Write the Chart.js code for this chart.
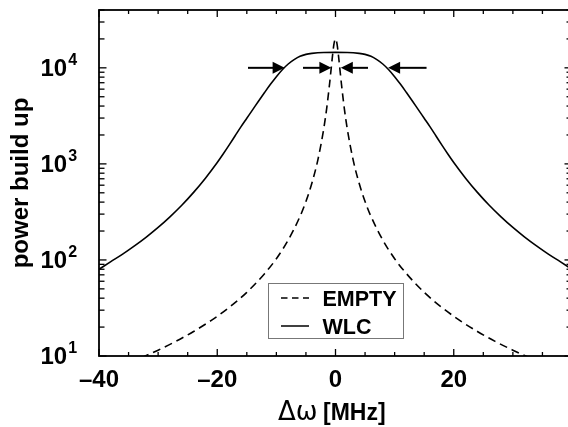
<!DOCTYPE html>
<html>
<head>
<meta charset="utf-8">
<script src="https://cdn.jsdelivr.net/npm/chart.js@4.4.1/dist/chart.umd.min.js"></script>
<style>
  html, body { margin: 0; padding: 0; background: #fff; overflow: hidden; }
  #wrap { width: 572px; height: 427px; }
</style>
</head>
<body>
<div id="wrap"><canvas id="myChart" width="572" height="427"></canvas></div>
<script>
// detuning [MHz] and power build up
const emptyX = [-39, -36, -33, -30, -27, -24, -21, -18, -15, -12, -10, -8, -6, -5, -4, -3, -2, -1.5, -1, -0.75, -0.5, -0.25,
                0, 0.25, 0.5, 0.75, 1, 1.5, 2, 3, 4, 5, 6, 8, 10, 12, 15, 18, 21, 24, 27, 30, 33, 36, 39];
const emptyY = [6.8, 8.0, 9.5, 11.5, 14.2, 18, 23.5, 32, 46, 72, 103, 161, 284, 406, 628, 1089, 2295, 3745, 6830, 9590, 13490, 17850,
                20000, 17850, 13490, 9590, 6830, 3745, 2295, 1089, 628, 406, 284, 161, 103, 72, 46, 32, 23.5, 18, 14.2, 11.5, 9.5, 8.0, 6.8];

const wlcX = [-40, -38, -36, -34, -32, -30, -28, -26, -24, -22, -20, -19, -18, -17, -16, -15, -14, -13, -12, -11, -10, -9, -8, -7, -6, -5, -4, -2,
              0, 2, 4, 5, 6, 7, 8, 9, 10, 11, 12, 13, 14, 15, 16, 17, 18, 19, 20, 22, 24, 26, 28, 30, 32, 34, 36, 38, 40];
const wlcY = [80, 96, 115, 140, 173, 218, 281, 371, 505, 710, 1035, 1268, 1567, 1950, 2427, 2985, 3670, 4520, 5530, 6730, 8090, 9550, 10960, 12160, 13180, 13800, 14130, 14450,
              14500, 14450, 14130, 13800, 13180, 12160, 10960, 9550, 8090, 6730, 5530, 4520, 3670, 2985, 2427, 1950, 1567, 1268, 1035, 710, 505, 371, 281, 218, 173, 140, 115, 96, 80];

const xTickLabels = [-40, -20, 0, 20];
const yTickLabels = [10, 100, 1000, 10000];

// width arrows drawn at the 10^4 level
const arrowFrom = [-14.8, -5.5, 5.5, 15.4];
const arrowTo = [-8.6, -0.7, 0.9, 8.9];
const arrowLevel = 10000;

const sup = { 1: '1', 2: '2', 3: '3', 4: '4' };

const decorations = {
  id: 'decorations',
  afterDatasetsDraw(chart) {
    const { ctx, chartArea: a, scales: { x, y } } = chart;
    const line = (x0, y0, x1, y1) => { ctx.beginPath(); ctx.moveTo(x0, y0); ctx.lineTo(x1, y1); ctx.stroke(); };
    ctx.save();
    ctx.strokeStyle = '#000';
    ctx.fillStyle = '#000';

    // frame
    ctx.lineWidth = 1.8;
    ctx.strokeRect(a.left, a.top, a.right - a.left, a.bottom - a.top);

    // x ticks, inward, top and bottom
    ctx.lineWidth = 1.3;
    for (let v = -40; v <= 40; v += 5) {
      const px = x.getPixelForValue(v);
      const len = v % 20 === 0 ? 7 : 4;
      line(px, a.bottom, px, a.bottom - len);
      line(px, a.top, px, a.top + len);
    }
    // y ticks, inward, left and right
    for (let e = 1; e <= 4; e++) {
      for (let m = 1; m <= 9; m++) {
        const v = m * Math.pow(10, e);
        if (v > y.max) break;
        const py = y.getPixelForValue(v);
        const len = m === 1 ? 7.5 : 5.5;
        line(a.left, py, a.left + len, py);
        line(a.right, py, a.right - len, py);
      }
    }

    // x tick labels
    ctx.font = 'bold 24px "Liberation Sans", Arial, sans-serif';
    ctx.textAlign = 'center';
    ctx.textBaseline = 'alphabetic';
    xTickLabels.forEach(v => {
      const txt = v < 0 ? '\u2013' + Math.abs(v) : String(v);
      ctx.fillText(txt, x.getPixelForValue(v), 387);
    });

    // y tick labels 10^n
    ctx.textAlign = 'left';
    yTickLabels.forEach(v => {
      const py = y.getPixelForValue(v);
      const e = Math.round(Math.log10(v));
      ctx.font = 'bold 24px "Liberation Sans", Arial, sans-serif';
      ctx.fillText('10', 40.5, py + 8);
      const w = ctx.measureText('10').width;
      ctx.font = 'bold 16px "Liberation Sans", Arial, sans-serif';
      ctx.fillText(sup[e], 40.5 + w + 1, py - 3);
    });

    // axis titles
    ctx.font = '26px "DejaVu Sans", sans-serif';
    ctx.fillText('\u0394\u03c9', 278, 420);
    ctx.font = 'bold 23px "Liberation Sans", Arial, sans-serif';
    ctx.fillText('[MHz]', 323, 420);

    ctx.save();
    ctx.translate(27.5, (a.top + a.bottom) / 2);
    ctx.rotate(-Math.PI / 2);
    ctx.textAlign = 'center';
    ctx.font = 'bold 24px "Liberation Sans", Arial, sans-serif';
    ctx.fillText('power build up', 0, 0);
    ctx.restore();

    // arrows
    const py = y.getPixelForValue(arrowLevel);
    arrowFrom.forEach((f, i) => {
      const x0 = x.getPixelForValue(f);
      const x1 = x.getPixelForValue(arrowTo[i]);
      const dir = Math.sign(x1 - x0);
      ctx.lineWidth = 2;
      line(x0, py, x1 - dir * 10, py);
      ctx.beginPath();
      ctx.moveTo(x1, py);
      ctx.lineTo(x1 - dir * 12, py - 6);
      ctx.lineTo(x1 - dir * 12, py + 6);
      ctx.closePath();
      ctx.fill();
    });

    // legend box
    ctx.fillStyle = '#fff';
    ctx.fillRect(268.5, 283.5, 135, 55);
    ctx.strokeStyle = '#777';
    ctx.lineWidth = 1;
    ctx.strokeRect(268.5, 283.5, 135, 55);
    ctx.strokeStyle = '#000';
    ctx.fillStyle = '#000';
    ctx.font = 'bold 21.5px "Liberation Sans", Arial, sans-serif';
    chart.data.datasets.forEach((ds, i) => {
      const ly = 298 + i * 28;
      ctx.lineWidth = 1.5;
      ctx.setLineDash(ds.borderDash.length ? [6.5, 4.5] : []);
      line(281, ly, 309, ly);
      ctx.setLineDash([]);
      ctx.fillText(ds.label, 322.5, ly + 8);
    });
    ctx.restore();
  }
};

const ctxs = document.getElementById('myChart');
new Chart(ctxs, {
  type: 'line',
  data: {
    datasets: [
      {
        label: 'EMPTY',
        data: emptyX.map((v, i) => ({ x: v, y: emptyY[i] })),
        borderColor: '#000',
        borderWidth: 1.6,
        borderDash: [8, 5],
        pointRadius: 0,
        fill: false,
        cubicInterpolationMode: 'monotone'
      },
      {
        label: 'WLC',
        data: wlcX.map((v, i) => ({ x: v, y: wlcY[i] })),
        borderColor: '#000',
        borderWidth: 1.6,
        borderDash: [],
        pointRadius: 0,
        fill: false,
        cubicInterpolationMode: 'monotone'
      }
    ]
  },
  options: {
    responsive: false,
    animation: false,
    layout: { padding: { left: 99, top: 10, right: 0, bottom: 71 } },
    plugins: { legend: { display: false }, tooltip: { enabled: false } },
    scales: {
      x: { type: 'linear', min: -40, max: 40, display: false },
      y: { type: 'logarithmic', min: 10, max: 40000, display: false }
    }
  },
  plugins: [decorations]
});
</script>
</body>
</html>
